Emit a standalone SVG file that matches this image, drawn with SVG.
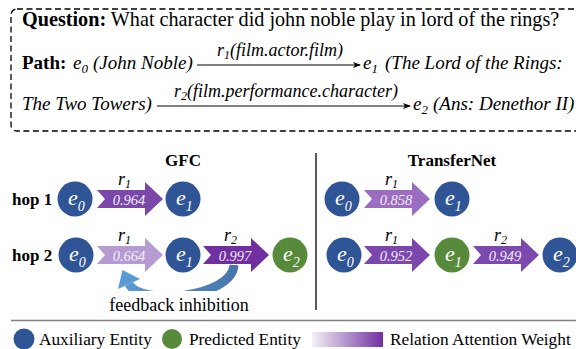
<svg xmlns="http://www.w3.org/2000/svg" width="576" height="349" viewBox="0 0 576 349">
<defs>
<style>
text{font-family:"Liberation Serif","Times New Roman",serif;fill:#000}
.q1{font-size:20.2px}
.q{font-size:19px}
.b{font-weight:bold}
.i{font-style:italic}
.lbl{font-size:18px;font-style:italic}
.hd{font-size:17px;font-weight:bold}
.ent{font-size:22px;font-style:italic;fill:#fff}
.sub{font-size:14px;font-style:italic;fill:#fff}
.num{font-size:14.5px;font-style:italic;fill:#f2ecf8}
.rl{font-size:18px;font-style:italic}
.rs{font-size:12px;font-style:italic}
.leg{font-size:17.3px}
.blue{fill:#2f5597}
.green{fill:#578a3b}
.thin{stroke:#000;stroke-width:1;fill:none}
</style>
<marker id="ah" markerWidth="8" markerHeight="6" refX="7" refY="3" orient="auto" markerUnits="userSpaceOnUse">
<path d="M0,0 L8,3 L0,6 L2,3 Z" fill="#000"/>
</marker>
<linearGradient id="leggrad" x1="0" y1="0" x2="1" y2="0">
<stop offset="0" stop-color="#f4f2f6"/>
<stop offset="1" stop-color="#7030a0"/>
</linearGradient>
<linearGradient id="fbgrad" gradientUnits="userSpaceOnUse" x1="120" y1="0" x2="240" y2="0">
<stop offset="0" stop-color="#5b9bd5"/>
<stop offset="1" stop-color="#4675aa"/>
</linearGradient>
</defs>

<!-- Question box -->
<g id="question-box">
<rect x="11" y="9" width="600" height="122" rx="6" fill="none" stroke="#000" stroke-width="1.3" stroke-dasharray="6,3.5"/>
<text class="q1" x="22" y="26"><tspan class="b">Question:</tspan> What character did john noble play in lord of the rings?</text>
<text class="q" x="22" y="69"><tspan class="b">Path:</tspan></text>
<text class="q i" x="73" y="69">e<tspan font-size="13" dy="4">0</tspan></text>
<text class="q i" x="93" y="69">(John Noble)</text>
<text class="lbl" x="280" y="56" text-anchor="middle">r<tspan font-size="12" dy="3">1</tspan><tspan dy="-3">(film.actor.film)</tspan></text>
<line class="thin" x1="197" y1="65" x2="360" y2="65" marker-end="url(#ah)"/>
<text class="q i" x="363" y="69">e<tspan font-size="13" dy="4">1</tspan></text>
<text class="q i" x="385" y="69">(The Lord of the Rings:</text>
<text class="q i" x="22" y="110">The Two Towers)</text>
<text class="lbl" x="286" y="97" text-anchor="middle">r<tspan font-size="12" dy="3">2</tspan><tspan dy="-3">(film.performance.character)</tspan></text>
<line class="thin" x1="157" y1="106" x2="410" y2="106" marker-end="url(#ah)"/>
<text class="q i" x="413" y="110">e<tspan font-size="13" dy="4">2</tspan></text>
<text class="q i" x="433" y="110">(Ans: Denethor II)</text>
</g>

<!-- headings -->
<text class="hd" x="183" y="166" text-anchor="middle">GFC</text>
<text class="hd" x="452" y="166" text-anchor="middle">TransferNet</text>
<text class="hd" x="12" y="205">hop 1</text>
<text class="hd" x="12" y="261">hop 2</text>
<line x1="316" y1="153" x2="316" y2="310" stroke="#000" stroke-width="1.3"/>

<!-- connectors (relation arrows) -->
<g id="connectors">
<polygon points="97,190 145,190 145,182 163,199 145,216 145,208 97,208 105,199" fill="#7a48a8"/>
<text class="num" x="129" y="205" text-anchor="middle">0.964</text>
<text class="rl" x="118" y="185">r<tspan class="rs" dy="3">1</tspan></text>

<polygon points="97,246 145,246 145,238 163,255 145,272 145,264 97,264 105,255" fill="#b69bd2"/>
<text class="num" x="129" y="261" text-anchor="middle">0.664</text>
<text class="rl" x="118" y="241">r<tspan class="rs" dy="3">1</tspan></text>

<polygon points="203,246 251,246 251,238 269,255 251,272 251,264 203,264 211,255" fill="#7030a0"/>
<text class="num" x="235" y="261" text-anchor="middle">0.997</text>
<text class="rl" x="224" y="241">r<tspan class="rs" dy="3">2</tspan></text>

<polygon points="364,190 412,190 412,182 430,199 412,216 412,208 364,208 372,199" fill="#9a6dc0"/>
<text class="num" x="396" y="205" text-anchor="middle">0.858</text>
<text class="rl" x="385" y="185">r<tspan class="rs" dy="3">1</tspan></text>

<polygon points="364,246 412,246 412,238 430,255 412,272 412,264 364,264 372,255" fill="#7b47ad"/>
<text class="num" x="396" y="261" text-anchor="middle">0.952</text>
<text class="rl" x="385" y="241">r<tspan class="rs" dy="3">1</tspan></text>

<polygon points="473,246 521,246 521,238 539,255 521,272 521,264 473,264 481,255" fill="#7c4aae"/>
<text class="num" x="505" y="261" text-anchor="middle">0.949</text>
<text class="rl" x="494" y="241">r<tspan class="rs" dy="3">2</tspan></text>

<!-- feedback inhibition -->
<path d="M234,265 C232,298 140,306 129,284" fill="none" stroke="url(#fbgrad)" stroke-width="9"/>
<polygon points="122.5,270 118,289 140,279" fill="#5b9bd5"/>
<rect x="104" y="291" width="152" height="27" fill="#fff"/>
<text x="179" y="311" font-size="18" text-anchor="middle">feedback inhibition</text>
</g>

<!-- nodes -->
<g id="gfc-h1-e0"><circle class="blue" cx="75" cy="199" r="17.5"/><text class="ent" x="68" y="205">e<tspan class="sub" dy="6">0</tspan></text></g>
<g id="gfc-h1-e1"><circle class="blue" cx="183" cy="199" r="17.5"/><text class="ent" x="176" y="205">e<tspan class="sub" dy="6">1</tspan></text></g>
<g id="gfc-h2-e0"><circle class="blue" cx="76" cy="255" r="17.5"/><text class="ent" x="69" y="261">e<tspan class="sub" dy="6">0</tspan></text></g>
<g id="gfc-h2-e1"><circle class="blue" cx="183" cy="255" r="17.5"/><text class="ent" x="176" y="261">e<tspan class="sub" dy="6">1</tspan></text></g>
<g id="gfc-h2-e2"><circle class="green" cx="290" cy="255" r="17.5"/><text class="ent" x="283" y="261">e<tspan class="sub" dy="6">2</tspan></text></g>
<g id="tn-h1-e0"><circle class="blue" cx="342" cy="199" r="17.5"/><text class="ent" x="335" y="205">e<tspan class="sub" dy="6">0</tspan></text></g>
<g id="tn-h1-e1"><circle class="blue" cx="452" cy="199" r="17.5"/><text class="ent" x="445" y="205">e<tspan class="sub" dy="6">1</tspan></text></g>
<g id="tn-h2-e0"><circle class="blue" cx="344" cy="255" r="17.5"/><text class="ent" x="337" y="261">e<tspan class="sub" dy="6">0</tspan></text></g>
<g id="tn-h2-e1"><circle class="green" cx="452" cy="255" r="17.5"/><text class="ent" x="445" y="261">e<tspan class="sub" dy="6">1</tspan></text></g>
<g id="tn-h2-e2"><circle class="blue" cx="560" cy="255" r="17.5"/><text class="ent" x="553" y="261">e<tspan class="sub" dy="6">2</tspan></text></g>

<!-- legend -->
<line x1="11" y1="320.5" x2="576" y2="320.5" stroke="#808080" stroke-width="1.5"/>
<g id="legend">
<circle class="blue" cx="24" cy="339" r="10.5"/>
<text class="leg" x="39" y="345">Auxiliary Entity</text>
<circle class="green" cx="172" cy="339" r="10"/>
<text class="leg" x="189" y="345">Predicted Entity</text>
<rect x="312" y="332" width="71" height="15" fill="url(#leggrad)"/>
<text class="leg" x="390" y="345">Relation Attention Weight</text>
</g>
</svg>
